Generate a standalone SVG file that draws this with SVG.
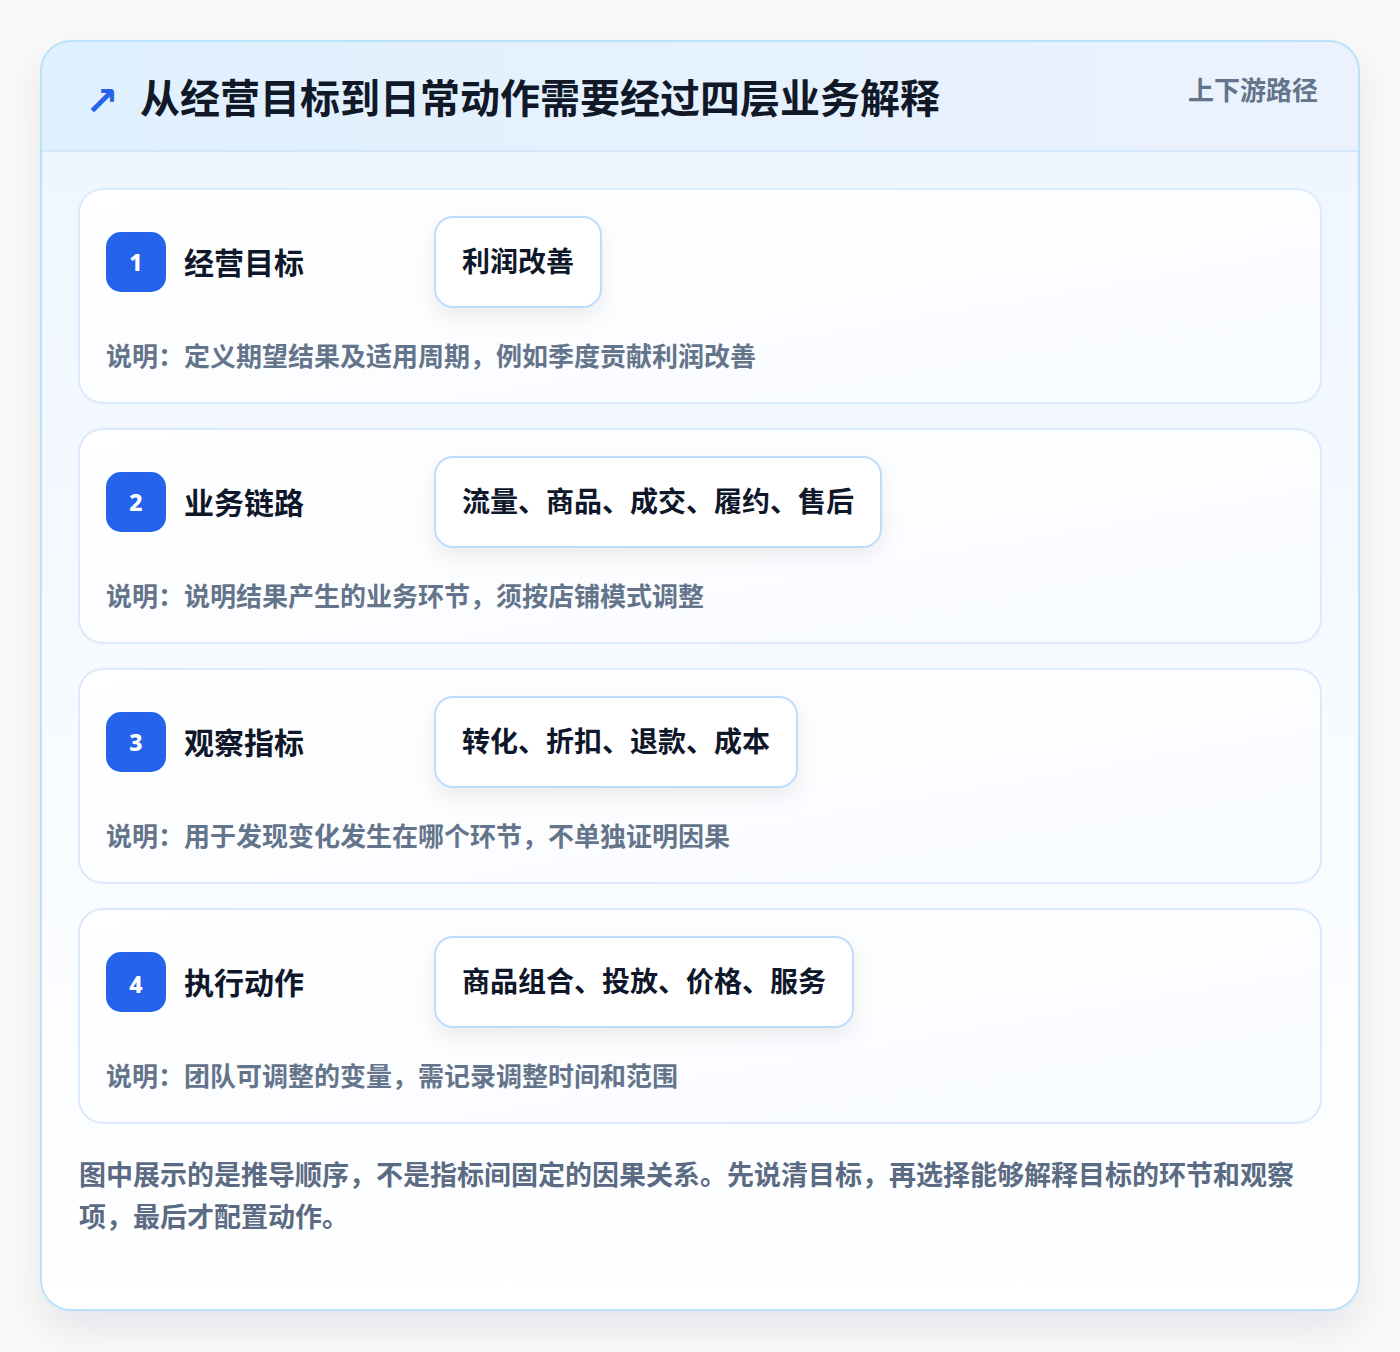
<svg xmlns="http://www.w3.org/2000/svg" width="1400" height="1352" viewBox="0 0 1400 1352">
  <defs>
    <linearGradient id="hdr" x1="0" y1="0" x2="1" y2="0">
      <stop offset="0" stop-color="#dff0fe"/>
      <stop offset="1" stop-color="#ebf2fe"/>
    </linearGradient>
    <linearGradient id="body" x1="0" y1="0" x2="0" y2="1">
      <stop offset="0" stop-color="#eff6ff"/>
      <stop offset="1" stop-color="#ffffff"/>
    </linearGradient>
    <linearGradient id="cardfill" x1="0" y1="0" x2="1" y2="1">
      <stop offset="0" stop-color="#ffffff"/>
      <stop offset="1" stop-color="#f8fbff"/>
    </linearGradient>
    <clipPath id="outerClip">
      <rect x="41" y="41" width="1318" height="1269" rx="30"/>
    </clipPath>
    <filter id="outerShadow" x="-10%" y="-10%" width="120%" height="125%">
      <feDropShadow dx="0" dy="18" stdDeviation="22" flood-color="#0f172a" flood-opacity="0.09"/>
    </filter>
    <filter id="pillShadow" x="-20%" y="-30%" width="140%" height="180%">
      <feDropShadow dx="0" dy="8" stdDeviation="10" flood-color="#0f172a" flood-opacity="0.07"/>
    </filter>
    <style>
      .cjk { font-family: "Noto Sans CJK SC", "Noto Sans", "Liberation Sans", sans-serif; font-weight: 700; }
      .card { fill: url(#cardfill); stroke: #dbeafe; stroke-width: 2; }
      .badge { fill: #2563eb; }
      .num { fill: #ffffff; font-family: "Noto Sans", "Liberation Sans", sans-serif; font-weight: 800; font-size: 23px; text-anchor: middle; }
      .ttl { fill: #0f172a; font-size: 30px; }
      .pill { fill: #ffffff; stroke: #bfdbfe; stroke-width: 2; }
      .pilltxt { fill: #0f172a; font-size: 28px; }
      .desc { fill: #64748b; font-size: 26px; }
      .foot { fill: #5b6b83; font-size: 27px; }
    </style>
  </defs>
  <rect x="0" y="0" width="1400" height="1352" fill="#fafafa"/>

  <!-- outer card -->
  <g id="frame">
    <rect x="41" y="41" width="1318" height="1269" rx="30" fill="#ffffff" filter="url(#outerShadow)"/>
    <g clip-path="url(#outerClip)">
      <rect x="41" y="151" width="1318" height="1159" fill="url(#body)"/>
      <rect x="41" y="41" width="1318" height="110" fill="url(#hdr)"/>
      <line x1="41" y1="151" x2="1359" y2="151" stroke="#d5e7fb" stroke-width="2"/>
    </g>
    <rect x="41" y="41" width="1318" height="1269" rx="30" fill="none" stroke="#bae3f9" stroke-width="2"/>
  </g>

  <g id="header">
    <text x="85" y="115" font-family="DejaVu Sans, sans-serif" font-weight="700" font-size="40" fill="#2563eb">↗</text>
    <text x="140" y="113" class="cjk" font-size="40" fill="#111827">从经营目标到日常动作需要经过四层业务解释</text>
    <text x="1318" y="100" class="cjk" font-size="26" fill="#64748b" text-anchor="end">上下游路径</text>
  </g>

  <g id="node1">
    <rect class="card" x="79" y="189" width="1242" height="214" rx="24"/>
    <rect class="badge" x="106" y="232" width="60" height="60" rx="15"/>
    <text class="num" x="136" y="271">1</text>
    <text class="cjk ttl" x="184" y="274">经营目标</text>
    <rect class="pill" x="435" y="217" width="166" height="90" rx="18" filter="url(#pillShadow)"/>
    <text class="cjk pilltxt" x="462" y="272">利润改善</text>
    <text class="cjk desc" x="106" y="366">说明：定义期望结果及适用周期，例如季度贡献利润改善</text>
  </g>

  <g id="node2">
    <rect class="card" x="79" y="429" width="1242" height="214" rx="24"/>
    <rect class="badge" x="106" y="472" width="60" height="60" rx="15"/>
    <text class="num" x="136" y="511">2</text>
    <text class="cjk ttl" x="184" y="514">业务链路</text>
    <rect class="pill" x="435" y="457" width="446" height="90" rx="18" filter="url(#pillShadow)"/>
    <text class="cjk pilltxt" x="462" y="512">流量、商品、成交、履约、售后</text>
    <text class="cjk desc" x="106" y="606">说明：说明结果产生的业务环节，须按店铺模式调整</text>
  </g>

  <g id="node3">
    <rect class="card" x="79" y="669" width="1242" height="214" rx="24"/>
    <rect class="badge" x="106" y="712" width="60" height="60" rx="15"/>
    <text class="num" x="136" y="751">3</text>
    <text class="cjk ttl" x="184" y="754">观察指标</text>
    <rect class="pill" x="435" y="697" width="362" height="90" rx="18" filter="url(#pillShadow)"/>
    <text class="cjk pilltxt" x="462" y="752">转化、折扣、退款、成本</text>
    <text class="cjk desc" x="106" y="846">说明：用于发现变化发生在哪个环节，不单独证明因果</text>
  </g>

  <g id="node4">
    <rect class="card" x="79" y="909" width="1242" height="214" rx="24"/>
    <rect class="badge" x="106" y="952" width="60" height="60" rx="15"/>
    <text class="num" x="136" y="993">4</text>
    <text class="cjk ttl" x="184" y="994">执行动作</text>
    <rect class="pill" x="435" y="937" width="418" height="90" rx="18" filter="url(#pillShadow)"/>
    <text class="cjk pilltxt" x="462" y="992">商品组合、投放、价格、服务</text>
    <text class="cjk desc" x="106" y="1086">说明：团队可调整的变量，需记录调整时间和范围</text>
  </g>

  <g id="connectors"></g>

  <g id="footer">
    <text class="cjk foot" x="79" y="1185">图中展示的是推导顺序，不是指标间固定的因果关系。先说清目标，再选择能够解释目标的环节和观察</text>
    <text class="cjk foot" x="79" y="1227">项，最后才配置动作。</text>
  </g>
</svg>
